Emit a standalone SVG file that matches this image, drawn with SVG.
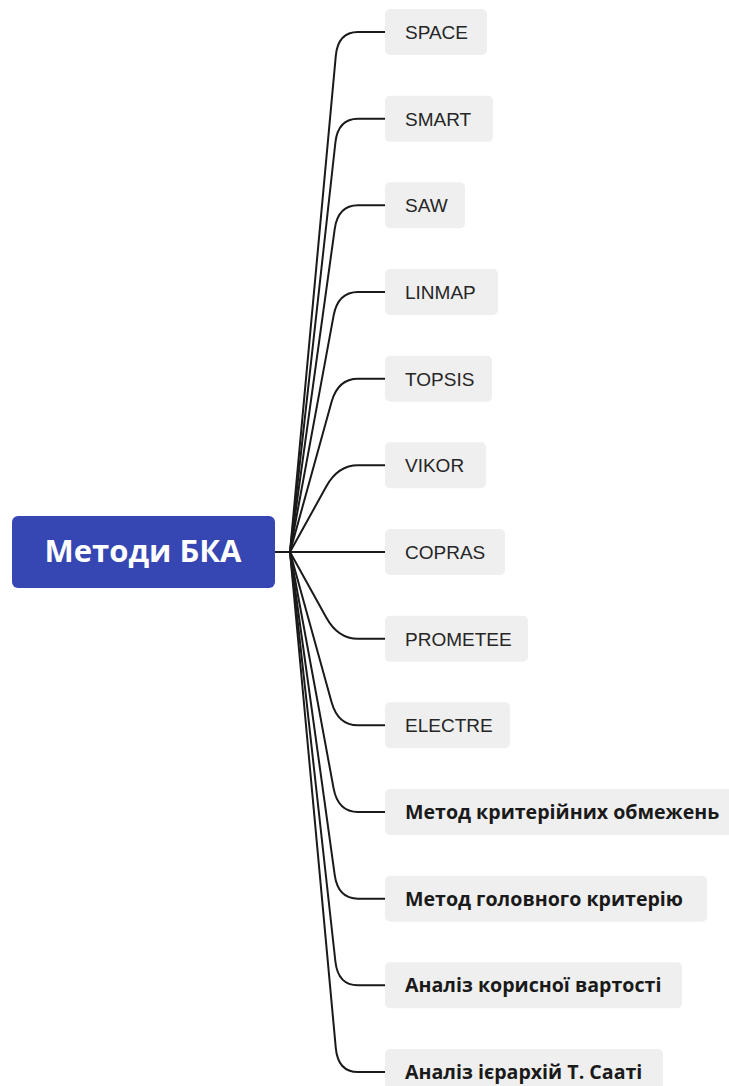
<svg xmlns="http://www.w3.org/2000/svg" width="729" height="1086" viewBox="0 0 729 1086">
<style>
.bg{fill:#ffffff}
.box{fill:#efefef}
.lbl{font-family:"Liberation Sans",Arial,sans-serif;font-size:19px;fill:#262626}
.blbl{font-family:"Open Sans","Noto Sans",sans-serif;font-weight:bold;font-size:19.6px;fill:#1a1a1a}
.conn{fill:none;stroke:#1a1a1a;stroke-width:2;stroke-linecap:round;stroke-linejoin:round}
.root{fill:#3646b3}
.rootlbl{font-family:"Open Sans","Noto Sans",sans-serif;font-weight:bold;font-size:31px;fill:#ffffff}
</style>
<rect class="bg" x="0" y="0" width="729" height="1086"/>
<g id="connectors">
<path class="conn" d="M275,552 L290,552 L335.8,55.9 Q338,32 358,32 L385,32"/>
<path class="conn" d="M290,552 L335.4,142.5 Q338,118.7 358,118.7 L385,118.7"/>
<path class="conn" d="M290,552 L334.7,229.1 Q338,205.3 358,205.3 L385,205.3"/>
<path class="conn" d="M290,552 L333.6,315.6 Q338,292 358,292 L385,292"/>
<path class="conn" d="M290,552 L331.6,401.8 Q338,378.7 358,378.7 L385,378.7"/>
<path class="conn" d="M290,552 L326.4,486.3 Q338,465.3 358,465.3 L385,465.3"/>
<path class="conn" d="M275,552 L385,552"/>
<path class="conn" d="M290,552 L326.4,617.7 Q338,638.7 358,638.7 L385,638.7"/>
<path class="conn" d="M290,552 L331.6,702.2 Q338,725.3 358,725.3 L385,725.3"/>
<path class="conn" d="M290,552 L333.6,788.4 Q338,812 358,812 L385,812"/>
<path class="conn" d="M290,552 L334.7,874.9 Q338,898.7 358,898.7 L385,898.7"/>
<path class="conn" d="M290,552 L335.4,961.5 Q338,985.3 358,985.3 L385,985.3"/>
<path class="conn" d="M290,552 L335.8,1048.1 Q338,1072 358,1072 L385,1072"/>
</g>
<g id="root">
<rect class="root" x="12" y="516" width="263" height="72" rx="6"/>
<text class="rootlbl" x="143" y="562" text-anchor="middle">Методи БКА</text>
</g>
<g id="n-space"><rect class="box" x="385" y="9" width="102" height="46" rx="5"/><text class="lbl" x="405" y="39">SPACE</text></g>
<g id="n-smart"><rect class="box" x="385" y="95.7" width="108" height="46" rx="5"/><text class="lbl" x="405" y="125.7">SMART</text></g>
<g id="n-saw"><rect class="box" x="385" y="182.3" width="80" height="46" rx="5"/><text class="lbl" x="405" y="212.3">SAW</text></g>
<g id="n-linmap"><rect class="box" x="385" y="269" width="113" height="46" rx="5"/><text class="lbl" x="405" y="299">LINMAP</text></g>
<g id="n-topsis"><rect class="box" x="385" y="355.7" width="107" height="46" rx="5"/><text class="lbl" x="405" y="385.7">TOPSIS</text></g>
<g id="n-vikor"><rect class="box" x="385" y="442.3" width="101" height="46" rx="5"/><text class="lbl" x="405" y="472.3">VIKOR</text></g>
<g id="n-copras"><rect class="box" x="385" y="529" width="120" height="46" rx="5"/><text class="lbl" x="405" y="559">COPRAS</text></g>
<g id="n-prometee"><rect class="box" x="385" y="615.7" width="143" height="46" rx="5"/><text class="lbl" x="405" y="645.7">PROMETEE</text></g>
<g id="n-electre"><rect class="box" x="385" y="702.3" width="125" height="46" rx="5"/><text class="lbl" x="405" y="732.3">ELECTRE</text></g>
<g id="n-krit-obm"><rect class="box" x="385" y="789" width="355" height="46" rx="5"/><text class="blbl" x="405" y="819">Метод критерійних обмежень</text></g>
<g id="n-golov"><rect class="box" x="385" y="875.7" width="322" height="46" rx="5"/><text class="blbl" x="405" y="905.7">Метод головного критерію</text></g>
<g id="n-korysn"><rect class="box" x="385" y="962.3" width="297" height="46" rx="5"/><text class="blbl" x="405" y="992.3">Аналіз корисної вартості</text></g>
<g id="n-saaty"><rect class="box" x="385" y="1049" width="278" height="46" rx="5"/><text class="blbl" x="405" y="1079">Аналіз ієрархій Т. Сааті</text></g>
</svg>
